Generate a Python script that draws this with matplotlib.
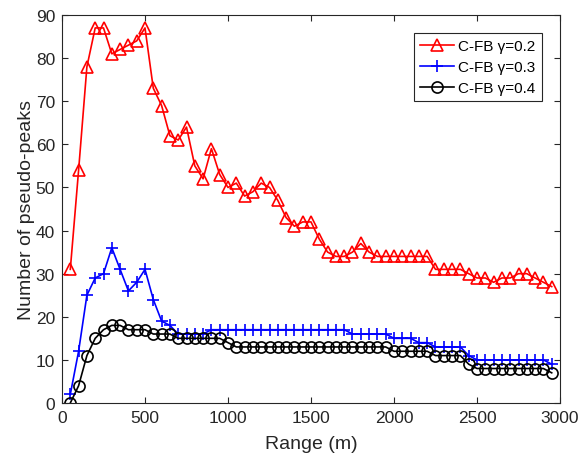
import numpy as np
import matplotlib
matplotlib.use("Agg")
import matplotlib.pyplot as plt

plt.rcParams['font.family'] = ['Liberation Sans', 'DejaVu Sans']

# range samples, every 50 m
rng = np.arange(50, 3000, 50)

red = [31, 54, 78, 87, 87, 81, 82, 83, 84, 87,
       73, 69, 62, 61, 64, 55, 52, 59, 53, 50,
       51, 48, 49, 51, 50, 47, 43, 41, 42, 42,
       38, 35, 34, 34, 35, 37, 35, 34, 34, 34,
       34, 34, 34, 34, 31, 31, 31, 31, 30, 29,
       29, 28, 29, 29, 30, 30, 29, 28, 27]
blue = [2, 12, 25, 29, 30, 36, 31, 26, 28, 31,
        24, 19, 18, 16, 16, 16, 16, 17, 17, 17,
        17, 17, 17, 17, 17, 17, 17, 17, 17, 17,
        17, 17, 17, 17, 16, 16, 16, 16, 16, 15,
        15, 15, 14, 14, 13, 13, 13, 13, 11, 10,
        10, 10, 10, 10, 10, 10, 10, 10, 9]
black = [0, 4, 11, 15, 17, 18, 18, 17, 17, 17,
         16, 16, 16, 15, 15, 15, 15, 15, 15, 14,
         13, 13, 13, 13, 13, 13, 13, 13, 13, 13,
         13, 13, 13, 13, 13, 13, 13, 13, 13, 12,
         12, 12, 12, 12, 11, 11, 11, 11, 9, 8,
         8, 8, 8, 8, 8, 8, 8, 8, 7]
labels = ['C-FB γ=0.2', 'C-FB γ=0.3', 'C-FB γ=0.4']

fig = plt.figure(figsize=(5.82, 4.60), dpi=100)
ax = fig.add_axes([62 / 582, 1 - 404 / 460, 498 / 582, 388 / 460])

ax.plot(rng, red, '-^', color='red', mfc='none', ms=9, lw=1.2, mew=1.2, label=labels[0])
ax.plot(rng, blue, '-+', color='blue', ms=9, lw=1.2, mew=1.2, label=labels[1])
ax.plot(rng, black, '-o', color='black', mfc='none', ms=8, lw=1.2, mew=1.2, label=labels[2])

ax.set_xlim(0, 3000)
ax.set_ylim(0, 90)
ax.set_xticks(np.arange(0, 3001, 500))
ax.set_yticks(np.arange(0, 91, 10))
ax.tick_params(direction='in', top=True, right=True, labelsize=12.5, colors='#262626',
               length=4, pad=5)
for s in ax.spines.values():
    s.set_color('#262626')
ax.set_xlabel('Range (m)', fontsize=14, color='#262626', labelpad=7)
ax.set_ylabel('Number of pseudo-peaks', fontsize=14, color='#262626', labelpad=0.5)

leg = ax.legend(loc='upper right', fontsize=11, fancybox=False, edgecolor='#262626',
                framealpha=1, borderaxespad=1.2, handlelength=2.2, labelspacing=0.45,
                handletextpad=0.3, borderpad=0.4)
leg.get_frame().set_linewidth(0.8)

fig.savefig('out.png', dpi=100)
